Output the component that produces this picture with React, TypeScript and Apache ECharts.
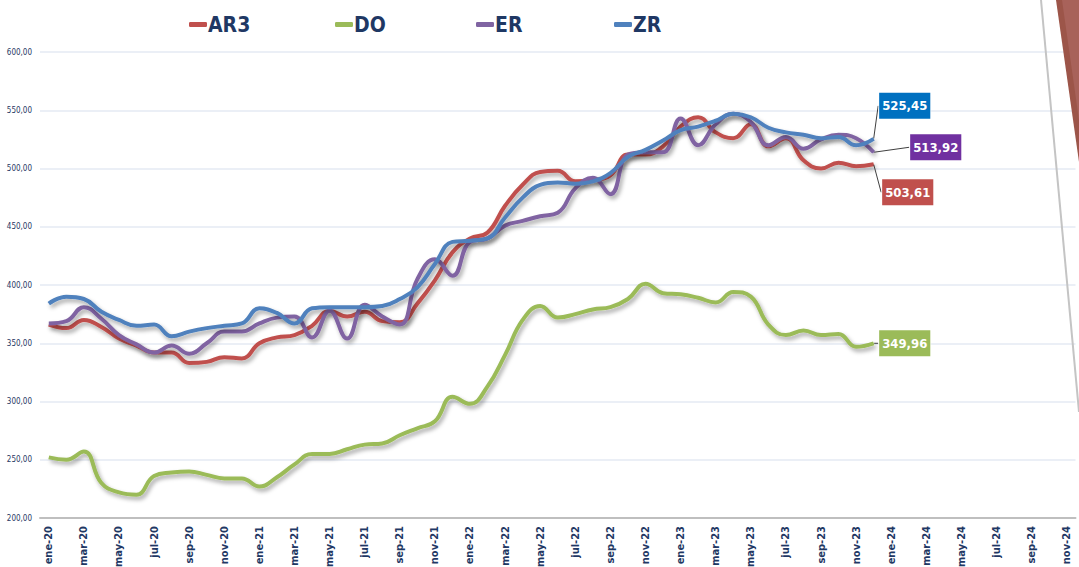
import React, { useEffect, useRef } from "react";
import * as echarts from "echarts";

const monthNames = ["ene", "feb", "mar", "abr", "may", "jun", "jul", "ago", "sep", "oct", "nov", "dic"];
const yearSuffixes = ["20", "21", "22", "23", "24"];
const categories: string[] = [];
yearSuffixes.forEach((y) => monthNames.forEach((m) => categories.push(`${m}-${y}`)));
categories.pop(); // ene-20 … nov-24

const seriesNames = ["AR3", "DO", "ER", "ZR"];

const ar3 = [366, 363, 370, 364, 354, 348, 342, 342, 333, 334, 338, 337, 350, 355, 357, 365, 378, 373, 377, 369, 368, 384, 404, 428, 440, 445, 468, 486, 497, 498, 489, 490, 494, 512, 512, 519, 536, 544, 531, 526, 538, 519, 526, 507, 500, 505, 502, 503.61];
const doV = [252, 250, 257, 230, 222, 220, 236, 239, 240, 237, 234, 234, 227, 235, 246, 255, 255, 259, 263, 264, 271, 277, 283, 304, 298, 313, 340, 370, 382, 372, 375, 379, 381, 388, 401, 393, 392, 389, 385, 394, 390, 366, 357, 361, 357, 358, 347, 349.96];
const er = [367, 369, 381, 371, 357, 349, 342, 348, 341, 350, 360, 360, 367, 372, 373, 355, 378, 354, 383, 373, 366, 405, 422, 408, 437, 440, 451, 455, 459, 462, 483, 492, 478, 512, 514, 514, 543, 520, 538, 547, 540, 520, 527, 517, 525, 529, 526, 513.92];
const zr = [384, 390, 388, 377, 370, 365, 366, 356, 360, 363, 365, 367, 380, 376, 367, 380, 381, 381, 381, 382, 388, 398, 418, 437, 438, 440, 458, 475, 486, 488, 487, 489, 496, 510, 516, 524, 533, 536, 541, 547, 544, 535, 531, 529, 526, 527, 520, 525.45];

const seriesData = [ar3, doV, er, zr];
const lineColors = ["#C0504D", "#9BBB59", "#8064A2", "#4F81BD"];
const boxColors = ["#C0504D", "#9BBB59", "#7030A0", "#0070C0"];
const labelShift = [
  [3, 28],
  [0, 0],
  [31, -5],
  [0, -33],
];
const legendLefts = [184, 330, 471, 609];

const NAVY = "#1F3864";
const FONT = "'Liberation Sans Narrow','DejaVu Sans Condensed','Roboto Condensed','Liberation Sans',sans-serif";
const fmt = (v: number) => v.toFixed(2).replace(".", ",");

export default function App() {
  const ref = useRef<HTMLDivElement>(null);
  useEffect(() => {
    if (!ref.current) return;
    const chart = echarts.init(ref.current, null, { renderer: "svg" });
    const series = seriesNames.map((name, i) => {
      const vals = seriesData[i];
      const data: any[] = vals.map((v, j) =>
        j === vals.length - 1
          ? {
              value: v,
              symbol: "circle",
              symbolSize: 1,
              label: {
                show: true,
                position: "right",
                distance: 5,
                formatter: (p: any) => fmt(p.value),
                color: "#fff",
                fontFamily: FONT,
                fontWeight: "bold",
                fontSize: 13,
                backgroundColor: boxColors[i],
                padding: [7, 3, 6, 3],
                borderColor: "rgba(255,255,255,0.6)",
                borderWidth: 1,
              },
            }
          : v
      );
      return {
        name,
        type: "line",
        data,
        smooth: 0.45,
        symbol: "none",
        showSymbol: true,
        color: lineColors[i],
        lineStyle: {
          width: 4,
          color: lineColors[i],
          shadowColor: "rgba(0,0,0,0.35)",
          shadowBlur: 4,
          shadowOffsetX: 2,
          shadowOffsetY: 3,
        },
        labelLayout: { dx: labelShift[i][0], dy: labelShift[i][1] },
        labelLine: { show: true, lineStyle: { color: "#404040", width: 1 } },
        z: i === 1 ? 2 : 3,
      };
    });
    chart.setOption({
      animation: false,
      backgroundColor: "#fff",
      grid: { left: 40, right: 3.5, top: 52, bottom: 49, containLabel: false, outerBoundsMode: "none" },
      legend: seriesNames.map((n, i) => ({
        data: [n],
        left: legendLefts[i],
        top: 9,
        icon: "roundRect",
        itemWidth: 18,
        itemHeight: 5,
        itemGap: 0,
        textStyle: { color: NAVY, fontSize: 21, fontWeight: "bold", fontFamily: FONT, padding: [0, 0, 0, -4] },
      })),
      xAxis: {
        type: "category",
        data: categories,
        boundaryGap: true,
        axisLine: { lineStyle: { color: "#BFBFBF", width: 2 } },
        axisTick: { show: false },
        axisLabel: {
          interval: 1,
          rotate: 90,
          color: NAVY,
          fontSize: 11,
          fontWeight: "bold",
          fontFamily: FONT,
          margin: 8,
        },
      },
      yAxis: {
        type: "value",
        min: 200,
        max: 600,
        interval: 50,
        axisLine: { show: false },
        axisTick: { show: false },
        axisLabel: { formatter: (v: number) => fmt(v), color: NAVY, fontSize: 8, fontFamily: FONT, margin: 8 },
        splitLine: { lineStyle: { color: "#E4EAF3", width: 1.5 } },
      },
      graphic: [
        { type: "polygon", shape: { points: [[1056, 0], [1079, 0], [1079, 162]] }, style: { fill: "#9C5549" }, z: 10 },
        { type: "polygon", shape: { points: [[1062, 0], [1079, 0], [1079, 120]] }, style: { fill: "#A8625A" }, z: 10 },
        { type: "line", shape: { x1: 1041, y1: 0, x2: 1079, y2: 412 }, style: { stroke: "#C4C4C4", lineWidth: 2 }, z: 10 },
      ],
      series,
    });
    return () => chart.dispose();
  }, []);
  return <div ref={ref} style={{ position: "fixed", left: 0, top: 0, width: 1079, height: 567 }} />;
}
